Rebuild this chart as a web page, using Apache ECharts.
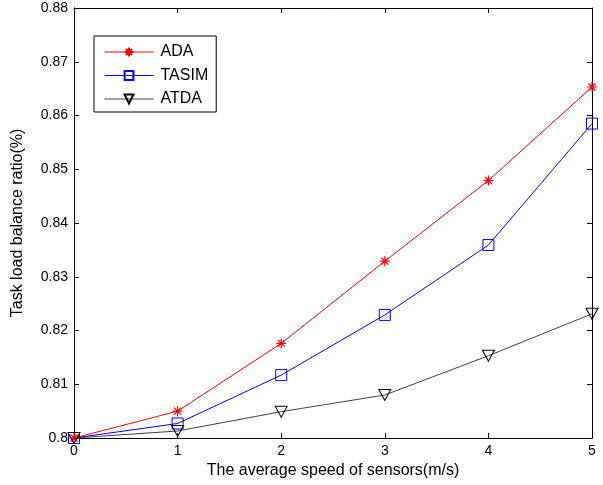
<!DOCTYPE html>
<html><head><meta charset="utf-8">
<script src="https://cdn.jsdelivr.net/npm/echarts@6/dist/echarts.min.js"></script>
<style>html,body{margin:0;padding:0;background:#fff}#c{width:603px;height:485px}</style>
</head><body><div id="c"></div>
<script>
const xValues = [0, 1, 2, 3, 4, 5];
const ada = [0.800, 0.805, 0.8176, 0.8329, 0.8479, 0.8653];
const tasim = [0.800, 0.8027, 0.8117, 0.8229, 0.8359, 0.8585];
const atda = [0.800, 0.8013, 0.8049, 0.8080, 0.8153, 0.8231];
const yTicks = [0.80, 0.81, 0.82, 0.83, 0.84, 0.85, 0.86, 0.87, 0.88];

const font = 'Liberation Sans, Arial, sans-serif';
const pair = arr => xValues.map((x, i) => [x, arr[i]]);
const chart = echarts.init(document.getElementById('c'));
const tickStyle = {show: true, inside: true, length: 5, lineStyle: {color: '#000'}};
const axisLine = {show: true, onZero: false, lineStyle: {color: '#000', width: 1}};
chart.setOption({
  animation: false,
  backgroundColor: '#fff',
  grid: {left: 74, right: 11, top: 8, bottom: 47, containLabel: false},
  legend: {
    orient: 'vertical', left: 94, top: 36,
    backgroundColor: '#fff', borderColor: '#000', borderWidth: 1,
    padding: [8, 8, 5, 10], itemGap: 7.5, itemWidth: 49, itemHeight: 11,
    lineStyle: {width: 1},
    textStyle: {fontFamily: font, fontSize: 16, color: '#000', padding: [0, 0, 0, 2]},
    data: ['ADA', 'TASIM', 'ATDA']
  },
  xAxis: [{
    type: 'value', min: 0, max: 5, interval: 1, position: 'bottom',
    name: 'The average speed of sensors(m/s)', nameLocation: 'middle', nameGap: 24,
    nameTextStyle: {fontFamily: font, fontSize: 16, color: '#000'},
    axisLine, axisTick: tickStyle, splitLine: {show: false},
    axisLabel: {fontFamily: font, fontSize: 14, color: '#000', margin: 6}
  }, {
    type: 'value', min: 0, max: 5, interval: 1, position: 'top',
    axisLine, axisTick: tickStyle, splitLine: {show: false}, axisLabel: {show: false}
  }],
  yAxis: [{
    type: 'value', min: 0.80, max: 0.88, interval: 0.01, position: 'left',
    name: 'Task load balance ratio(%)', nameLocation: 'middle', nameGap: 48,
    nameTextStyle: {fontFamily: font, fontSize: 16, color: '#000'},
    axisLine, axisTick: tickStyle, splitLine: {show: false},
    axisLabel: {fontFamily: font, fontSize: 14, color: '#000', margin: 6,
      formatter: v => String(+(+v).toFixed(2))}
  }, {
    type: 'value', min: 0.80, max: 0.88, interval: 0.01, position: 'right',
    axisLine, axisTick: tickStyle, splitLine: {show: false}, axisLabel: {show: false}
  }],
  series: [{
    name: 'ADA', type: 'line', data: pair(ada),
    symbol: 'path://M5,0L5,10M0,5L10,5M1.5,1.5L8.5,8.5M1.5,8.5L8.5,1.5', symbolSize: 10,
    lineStyle: {color: '#ff0000', width: 1},
    itemStyle: {color: 'none', borderColor: '#ff0000', borderWidth: 1.2}
  }, {
    name: 'TASIM', type: 'line', data: pair(tasim),
    symbol: 'rect', symbolSize: 11,
    lineStyle: {color: '#0000ff', width: 1},
    itemStyle: {color: 'none', borderColor: '#0000ff', borderWidth: 1}
  }, {
    name: 'ATDA', type: 'line', data: pair(atda),
    symbol: 'path://M0,0L10,0L5,9Z', symbolSize: [12, 11],
    lineStyle: {color: '#404040', width: 1},
    itemStyle: {color: 'none', borderColor: '#000', borderWidth: 1}
  }]
});
</script></body></html>
